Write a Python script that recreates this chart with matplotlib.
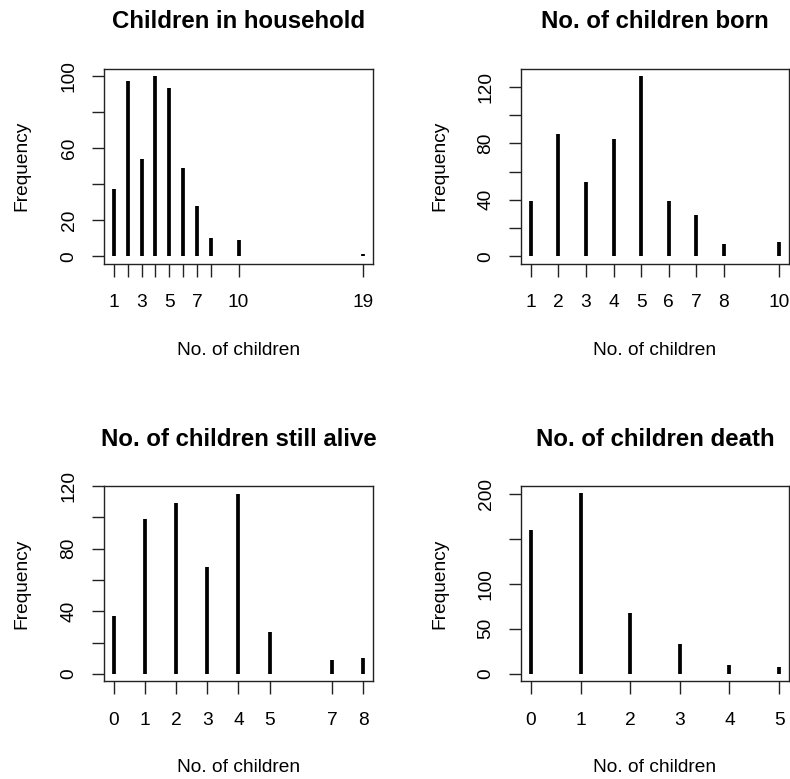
import matplotlib.pyplot as plt

plt.rcParams['font.family'] = ['Liberation Sans', 'DejaVu Sans']

# Frequency tables
household_x = [1, 2, 3, 4, 5, 6, 7, 8, 10, 19]
household_n = [37, 97, 54, 100, 93, 49, 28, 10, 9, 1]

born_x = [1, 2, 3, 4, 5, 6, 7, 8, 10]
born_n = [39, 87, 53, 83, 128, 39, 29, 9, 10]

alive_x = [0, 1, 2, 3, 4, 5, 7, 8]
alive_n = [37, 99, 109, 68, 115, 27, 9, 10]

death_x = [0, 1, 2, 3, 4, 5]
death_n = [160, 201, 68, 33, 10, 8]

titles = ['Children in household', 'No. of children born',
          'No. of children still alive', 'No. of children death']

xlabels = [
    ['1', '', '3', '', '5', '', '7', '', '10', '19'],
    ['1', '2', '3', '4', '5', '6', '7', '8', '10'],
    ['0', '1', '2', '3', '4', '5', '7', '8'],
    ['0', '1', '2', '3', '4', '5'],
]
yticks = [
    [0, 20, 40, 60, 80, 100],
    [0, 20, 40, 60, 80, 100, 120],
    [0, 20, 40, 60, 80, 100, 120],
    [0, 50, 100, 150, 200],
]
ylabels = [
    ['0', '20', '', '60', '', '100'],
    ['0', '', '40', '', '80', '', '120'],
    ['0', '', '40', '', '80', '', '120'],
    ['0', '50', '100', '', '200'],
]

W, H = 790, 779
fig = plt.figure(figsize=(W / 100, H / 100), dpi=100)

# panel boxes in pixels: left, right, top, bottom
boxes = [(104, 373, 68.5, 263.5), (521, 789, 68.5, 263.5),
         (104, 373, 486, 681), (521, 789, 486, 681)]

series = [(household_x, household_n), (born_x, born_n),
          (alive_x, alive_n), (death_x, death_n)]


def r_range(lo, hi):
    # base R pads the data range by 4% on each side
    pad = 0.04 * (hi - lo)
    return lo - pad, hi + pad


for i, ((x, n), (l, r, t, b)) in enumerate(zip(series, boxes)):
    ax = fig.add_axes([l / W, 1 - b / H, (r - l) / W, (b - t) / H])
    ax.vlines(x, 0, n, color='black', lw=2.7)
    ax.set_xlim(*r_range(min(x), max(x)))
    ax.set_ylim(*r_range(0, max(n)))

    ax.set_xticks(x, xlabels[i])
    ax.set_yticks(yticks[i], ylabels[i])
    ax.tick_params(axis='both', direction='out', length=9, width=1,
                   labelsize=13.8, color='#222222')
    ax.tick_params(axis='x', pad=13)
    ax.tick_params(axis='y', pad=10)
    for lab in ax.get_yticklabels():
        lab.set_rotation(90)
        lab.set_va('center')
    for s in ax.spines.values():
        s.set_linewidth(1.0)
        s.set_color('#222222')

    h = b - t
    w = r - l
    title_y = t - 46.5
    xlab_y = b + 87
    ylab_x = 22 if i % 2 == 0 else 440
    ax.text(0.5, (b - title_y) / h, titles[i], transform=ax.transAxes,
            ha='center', va='center', fontsize=17.3, fontweight='bold')
    ax.text(0.5, (b - xlab_y) / h, 'No. of children', transform=ax.transAxes,
            ha='center', va='center', fontsize=13.8)
    ax.text((ylab_x - l) / w, 0.5, 'Frequency', transform=ax.transAxes,
            rotation=90, ha='center', va='center', fontsize=13.8)

fig.savefig('out.png', dpi=100)
